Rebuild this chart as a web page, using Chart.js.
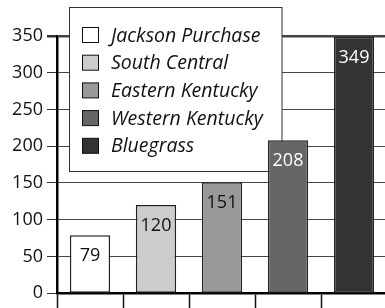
<!DOCTYPE html>
<html>
<head>
<meta charset="utf-8">
<script src="https://cdn.jsdelivr.net/npm/chart.js@4/dist/chart.umd.min.js"></script>
<style>
  html, body { margin: 0; padding: 0; background: #fff; overflow: hidden; }
  #wrap { width: 387px; height: 308px; }
</style>
</head>
<body>
<div id="wrap"><canvas id="chart" width="387" height="308"></canvas></div>
<script>
const regions = ["Jackson Purchase", "South Central", "Eastern Kentucky", "Western Kentucky", "Bluegrass"];
const counts = [79, 120, 151, 208, 349];
const fills = ["#ffffff", "#cccccc", "#999999", "#666666", "#333333"];
const labelColors = ["#111111", "#111111", "#111111", "#ffffff", "#ffffff"];
const yTicks = [0, 50, 100, 150, 200, 250, 300, 350];

const FONT = "'Open Sans', sans-serif";

// legend box sits over the gridlines but under the bars
const boxLegend = {
  id: "boxLegend",
  beforeDatasetsDraw(chart) {
    const ctx = chart.ctx;
    ctx.save();
    ctx.fillStyle = "#fff";
    ctx.strokeStyle = "#333";
    ctx.lineWidth = 1;
    ctx.fillRect(69.5, 7.5, 212.5, 164);
    ctx.strokeRect(69.5, 7.5, 212.5, 164);
    ctx.font = "italic 19.5px " + FONT;
    ctx.textBaseline = "middle";
    regions.forEach((name, i) => {
      const cy = 35 + i * 27.7;
      ctx.fillStyle = fills[i];
      ctx.fillRect(82.5, cy - 7.5, 16, 15);
      ctx.strokeStyle = "#111";
      ctx.strokeRect(82.5, cy - 7.5, 16, 15);
      ctx.fillStyle = "#111";
      ctx.fillText(name, 111, cy + 1);
    });
    ctx.restore();
  },
};

const valueLabels = {
  id: "valueLabels",
  afterDatasetsDraw(chart) {
    const ctx = chart.ctx;
    const meta = chart.getDatasetMeta(0);
    ctx.save();
    ctx.font = "18px " + FONT;
    ctx.textAlign = "center";
    ctx.textBaseline = "middle";
    meta.data.forEach((bar, i) => {
      ctx.fillStyle = labelColors[i];
      ctx.fillText(String(counts[i]), bar.x, bar.y + 21);
    });
    ctx.restore();
  },
};

new Chart(document.getElementById("chart"), {
  type: "bar",
  data: {
    labels: regions,
    datasets: [
      {
        data: counts,
        backgroundColor: fills,
        borderColor: "#222",
        borderWidth: 1.5,
        borderSkipped: false,
        categoryPercentage: 1,
        barPercentage: 0.61,
      },
    ],
  },
  options: {
    responsive: false,
    animation: false,
    layout: { padding: { top: 36, right: 0, bottom: -2, left: 0 } },
    plugins: {
      legend: { display: false },
      tooltip: { enabled: false },
    },
    scales: {
      x: {
        offset: true,
        afterFit: (scale) => {
          scale.height = 13;
        },
        grid: {
          offset: true,
          drawOnChartArea: false,
          tickLength: 15,
          tickColor: "#111",
          tickWidth: 1.5,
        },
        border: { color: "#000", width: 2.5 },
        ticks: { display: false },
      },
      y: {
        min: 0,
        max: 350,
        afterBuildTicks: (scale) => {
          scale.ticks = yTicks.map((v) => ({ value: v }));
        },
        afterFit: (scale) => {
          scale.width = 57;
        },
        grid: {
          color: "#444",
          lineWidth: (c) => (c.tick && c.tick.value === 350 ? 2.5 : 1),
          tickLength: 10,
          tickColor: "#333",
        },
        border: { color: "#000", width: 2.5 },
        ticks: {
          padding: 4,
          color: "#111",
          font: { family: FONT, size: 18 },
        },
      },
    },
  },
  plugins: [boxLegend, valueLabels],
});
</script>
</body>
</html>
